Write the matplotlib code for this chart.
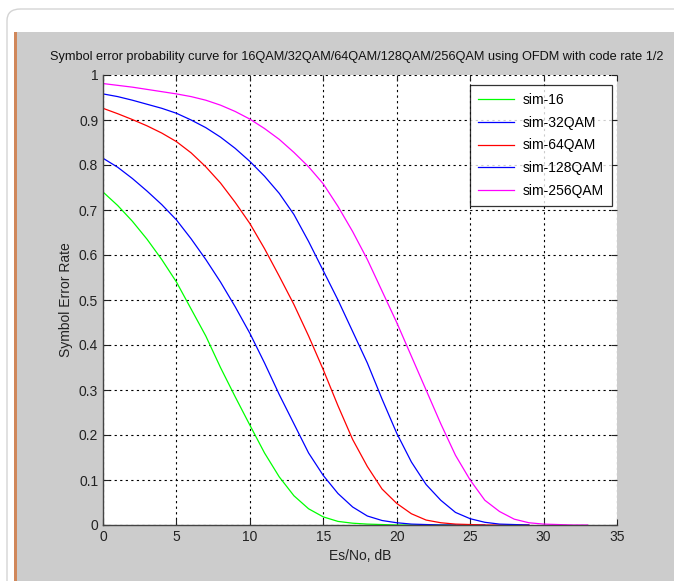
import matplotlib
matplotlib.use("Agg")
import matplotlib.pyplot as plt
from matplotlib.patches import Rectangle, FancyBboxPatch

# Es/No (dB) and symbol error rates
esno_16 = list(range(0, 25))
ser_16 = [0.74, 0.71, 0.675, 0.635, 0.59, 0.54, 0.48, 0.42, 0.35, 0.285,
          0.222, 0.16, 0.107, 0.065, 0.036, 0.018, 0.008, 0.004, 0.002, 0.001,
          0, 0, 0, 0, 0]

esno_32 = list(range(0, 27))
ser_32 = [0.815, 0.795, 0.77, 0.742, 0.712, 0.678, 0.636, 0.59, 0.54, 0.485,
          0.426, 0.36, 0.29, 0.225, 0.16, 0.11, 0.07, 0.04, 0.02, 0.01,
          0.005, 0.002, 0.001, 0, 0, 0, 0]

esno_64 = list(range(0, 30))
ser_64 = [0.926, 0.914, 0.901, 0.887, 0.871, 0.852, 0.827, 0.796, 0.76, 0.717,
          0.67, 0.614, 0.553, 0.49, 0.42, 0.345, 0.265, 0.19, 0.13, 0.08,
          0.048, 0.025, 0.011, 0.005, 0.002, 0.001, 0, 0, 0, 0]

esno_128 = list(range(0, 30))
ser_128 = [0.958, 0.952, 0.944, 0.935, 0.926, 0.915, 0.9, 0.883, 0.862, 0.837,
           0.808, 0.775, 0.737, 0.69, 0.63, 0.565, 0.5, 0.43, 0.36, 0.28,
           0.204, 0.14, 0.09, 0.055, 0.028, 0.014, 0.006, 0.002, 0.001, 0]

esno_256 = list(range(0, 34))
ser_256 = [0.981, 0.977, 0.973, 0.968, 0.963, 0.958, 0.952, 0.944, 0.933, 0.919,
           0.902, 0.881, 0.857, 0.828, 0.796, 0.758, 0.708, 0.652, 0.59, 0.52,
           0.45, 0.375, 0.3, 0.225, 0.155, 0.1, 0.055, 0.03, 0.013, 0.005,
           0.002, 0.001, 0, 0]

labels = ["sim-16", "sim-32QAM", "sim-64QAM", "sim-128QAM", "sim-256QAM"]
colors = ["#00ff00", "#0000ff", "#ff0000", "#0000ff", "#ff00ff"]

xticks = [0, 5, 10, 15, 20, 25, 30, 35]
yticks = [0, 0.1, 0.2, 0.3, 0.4, 0.5, 0.6, 0.7, 0.8, 0.9, 1]
ytick_labels = ["0", "0.1", "0.2", "0.3", "0.4", "0.5", "0.6", "0.7", "0.8", "0.9", "1"]

plt.rcParams["font.family"] = ["Liberation Sans", "DejaVu Sans"]

W, H = 674, 581
fig = plt.figure(figsize=(W / 100, H / 100), dpi=100)
fig.patch.set_facecolor("white")

# page frame, grey figure window and orange strip (behind the axes)
fig.patches.append(FancyBboxPatch((7 / W, -0.1), 1.2, (H - 9) / H + 0.1,
                                  boxstyle="round,pad=0,rounding_size=0.02",
                                  transform=fig.transFigure, facecolor="white",
                                  edgecolor="#d4d4d4", linewidth=1.0, zorder=-3))
fig.patches.append(Rectangle((14 / W, 0), 1, (H - 32) / H, transform=fig.transFigure,
                             facecolor="#cccccc", edgecolor="none", zorder=-2))
fig.patches.append(Rectangle((14 / W, 0), 3 / W, (H - 32) / H, transform=fig.transFigure,
                             facecolor="#d0875a", edgecolor="none", zorder=-1))

ax = fig.add_axes([103 / W, 56 / H, 514 / W, 450 / H])
ax.set_facecolor("white")

series = [(esno_16, ser_16), (esno_32, ser_32), (esno_64, ser_64),
          (esno_128, ser_128), (esno_256, ser_256)]
for (x, y), lab, col in zip(series, labels, colors):
    ax.plot(x, y, color=col, linewidth=0.9, label=lab)

ax.set_xlim(0, 35)
ax.set_ylim(0, 1)
ax.set_xticks(xticks)
ax.set_yticks(yticks)
ax.set_yticklabels(ytick_labels)
ax.grid(True, color="black", linestyle=(0, (2, 3)), linewidth=0.8)
ax.tick_params(direction="in", length=4, labelsize=10, colors="#222222",
               top=True, right=True)

for side in ["top", "right"]:
    ax.spines[side].set_visible(False)
for side in ["left", "bottom"]:
    ax.spines[side].set_color("#444444")
    ax.spines[side].set_linewidth(1.0)

fig.text(357 / W, 1 - 57 / H,
         "Symbol error probability curve for 16QAM/32QAM/64QAM/128QAM/256QAM using OFDM with code rate 1/2",
         fontsize=9.2, color="#111111", ha="center", va="center")
ax.set_xlabel("Es/No, dB", fontsize=10, color="#222222")
ax.set_ylabel("Symbol Error Rate", fontsize=10, color="#222222")

leg = ax.legend(loc="upper right", bbox_to_anchor=(0.990, 0.978), borderaxespad=0,
                fontsize=10, frameon=True, fancybox=False, handlelength=2.6,
                labelspacing=0.62, borderpad=0.6, handletextpad=0.6)
leg.get_frame().set_edgecolor("black")
leg.get_frame().set_linewidth(0.9)

fig.savefig("out.png", dpi=100)
